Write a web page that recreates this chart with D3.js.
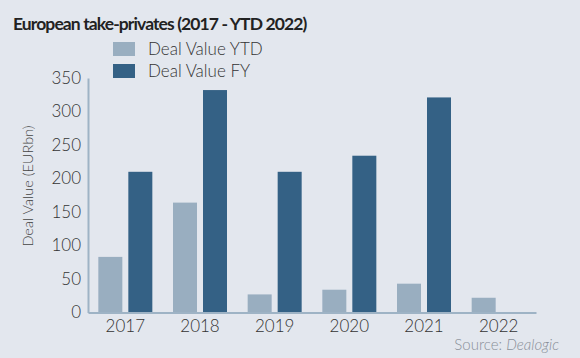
<!DOCTYPE html>
<html><head><meta charset="utf-8">
<script src="https://cdn.jsdelivr.net/npm/d3@7"></script>
<style>
html,body{margin:0;padding:0;background:#e3e7ee;}
svg{display:block;}
text{font-family:Lato,"Open Sans",sans-serif;}
</style></head>
<body>
<svg id="chart" width="580" height="358"></svg>
<script>
const categories = ["2017","2018","2019","2020","2021","2022"];
const seriesNames = ["Deal Value YTD","Deal Value FY"];
const ytdValues = [83, 164, 27, 34, 43, 22];
const fyValues = [210, 332, 210, 234, 321, null];
const yTicks = [0, 50, 100, 150, 200, 250, 300, 350];
const colors = ["#99aec0", "#346185"];

const svg = d3.select("#chart");
svg.append("rect").attr("width",580).attr("height",358).attr("fill","#e3e7ee");

const x0 = d3.scaleBand().domain(categories).range([88, 536]).padding(0);
const step = x0.bandwidth();
const x1 = d3.scaleBand().domain(seriesNames)
  .range([(step-54)/2, (step+54)/2]).paddingInner(0.2).paddingOuter(0);
const y = d3.scaleLinear().domain([0, 350]).range([312.5, 78]);

const data = categories.map((c,i)=>({cat:c, vals:[ytdValues[i], fyValues[i]]}));

// bars
const g = svg.append("g");
data.forEach(d=>{
  d.vals.forEach((v,j)=>{
    if(v==null) return;
    g.append("rect")
      .attr("x", x0(d.cat)+x1(seriesNames[j]))
      .attr("y", y(v))
      .attr("width", x1.bandwidth())
      .attr("height", y(0)-y(v))
      .attr("fill", colors[j]);
  });
});

// y axis
const yAxis = d3.axisLeft(y).tickValues(yTicks).tickSize(0).tickPadding(7);
const yg = svg.append("g").attr("transform","translate(88,0)").call(yAxis);
yg.select(".domain").attr("stroke","#9eb3c5").attr("stroke-width",2);
yg.selectAll("text").attr("font-size",17).attr("font-weight",300).attr("fill","#333").attr("font-family","Lato");

// x axis
const xAxis = d3.axisBottom(x0).tickSize(0).tickPadding(7);
const xg = svg.append("g").attr("transform","translate(0,312.5)").call(xAxis);
xg.select(".domain").attr("stroke","#9eb3c5").attr("stroke-width",2);
xg.selectAll("text").attr("font-size",17).attr("font-weight",300).attr("fill","#333").attr("font-family","Lato");

// y title
svg.append("text")
  .attr("transform","translate(33,186) rotate(-90)")
  .attr("text-anchor","middle")
  .attr("font-size",14.5).attr("font-weight",300).attr("fill","#444")
  .text("Deal Value (EURbn)");

// title
svg.append("text").attr("x",13).attr("y",29.5)
  .attr("font-size",17.5).attr("font-weight",700).attr("fill","#222")
  .attr("letter-spacing","-0.9")
  .text("European take-privates (2017 - YTD 2022)");

// legend
seriesNames.forEach((s,i)=>{
  const ly = 42 + i*22;
  svg.append("rect").attr("x",113).attr("y",ly).attr("width",22).attr("height",14).attr("fill",colors[i]);
  svg.append("text").attr("x",148).attr("y",ly+13)
    .attr("font-size",17).attr("font-weight",300).attr("fill","#333").text(s);
});

// source
const src = svg.append("text").attr("x",559).attr("y",350).attr("text-anchor","end")
  .attr("font-size",15).attr("font-weight",300).attr("fill","#8a9099");
src.append("tspan").text("Source: ");
src.append("tspan").attr("font-style","italic").text("Dealogic");
</script>
</body></html>
